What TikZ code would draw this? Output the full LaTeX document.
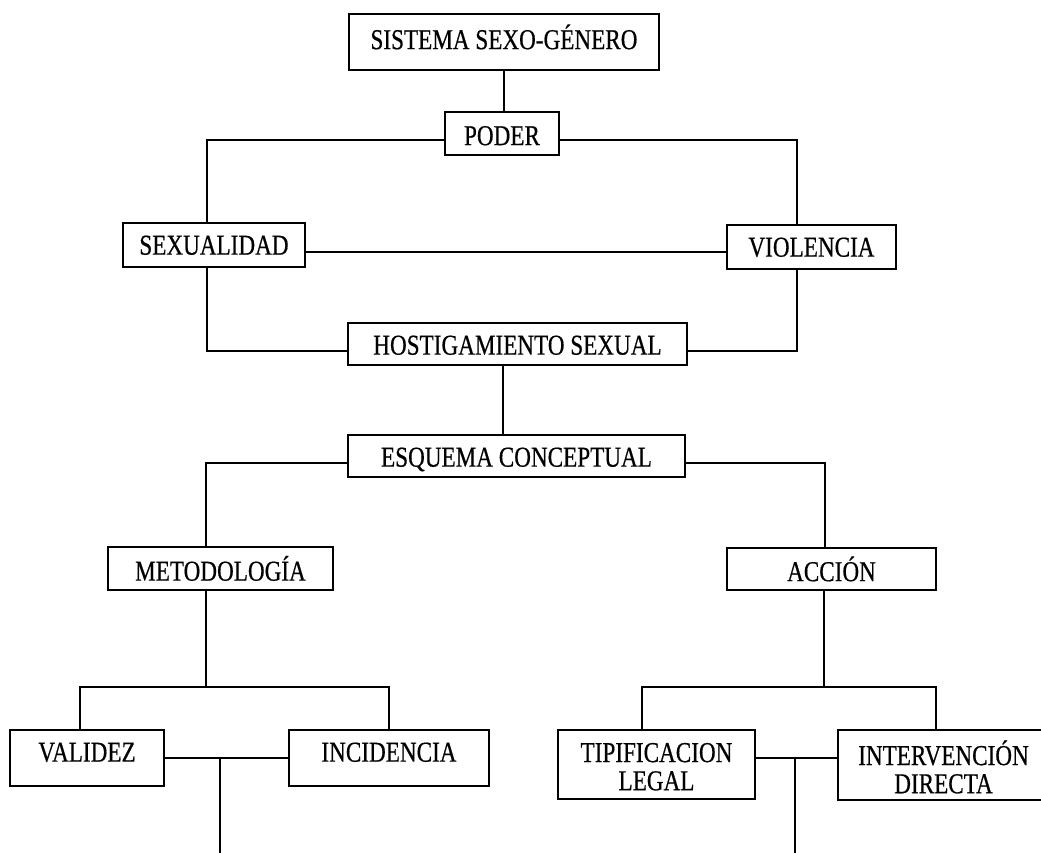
\documentclass[tikz,border=0pt]{standalone}
\usepackage{fontspec}
\setmainfont{Liberation Serif}
\newfontfamily\lblfont{Liberation Serif}[FakeBold=0.6]
% labels are set slightly tall and narrow, as in a condensed Times face;
% the optional argument moves the lettering up or down inside its box
\newcommand\lbl[2][-4pt]{\raisebox{#1}[\height][\depth]{%
  \scalebox{0.965}[1.2]{\begin{tabular}{@{}c@{}}#2\end{tabular}}}}
\begin{document}
\begin{tikzpicture}[x=1pt,y=-1pt,
  box/.style={draw, line width=2.3pt, inner sep=0pt, align=center,
    font=\lblfont\fontsize{24}{23.5}\selectfont},
  link/.style={line width=2.1pt}]
\useasboundingbox (0,0) rectangle (1041,853);
\clip (0,0) rectangle (1041,853);

% boxes
\node[box, minimum width=310pt, minimum height=56pt] (sis) at (504,42) {\lbl[1pt]{SISTEMA SEXO-GÉNERO}};
\node[box, minimum width=114pt, minimum height=43pt] (poder) at (502,133.5) {\lbl[-6pt]{PODER}};
\node[box, minimum width=182pt, minimum height=44pt] (sex) at (214,245) {\lbl{SEXUALIDAD}};
\node[box, minimum width=169pt, minimum height=44pt] (vio) at (811.5,247) {\lbl{VIOLENCIA}};
\node[box, minimum width=339pt, minimum height=42pt] (host) at (517.5,344) {\lbl[-5pt]{HOSTIGAMIENTO SEXUAL}};
\node[box, minimum width=337pt, minimum height=42pt] (esq) at (516.5,456) {\lbl[-5pt]{ESQUEMA CONCEPTUAL}};
\node[box, minimum width=225pt, minimum height=43pt] (met) at (220.5,568.5) {\lbl{METODOLOGÍA}};
\node[box, minimum width=209pt, minimum height=42pt] (acc) at (831.5,569) {\lbl{ACCIÓN}};
\node[box, minimum width=154pt, minimum height=56pt] (val) at (87,758) {\lbl[2pt]{VALIDEZ}};
\node[box, minimum width=200pt, minimum height=56pt] (inc) at (389,758) {\lbl[2pt]{INCIDENCIA}};
\node[box, minimum width=197pt, minimum height=69pt] (tip) at (656.5,764.5) {\lbl[-6pt]{TIPIFICACION\\LEGAL}};
\node[box, minimum width=211pt, minimum height=70pt] (int) at (943.5,765) {\lbl[-6pt]{INTERVENCIÓN\\DIRECTA}};

% junction points and open line ends
\coordinate (mj) at (206,687);
\coordinate (aj) at (824,687);
\coordinate (vj) at (220,758);
\coordinate (tj) at (795,758);
\coordinate (vend) at (220,853);
\coordinate (tend) at (795,853);

% connectors
\draw[link] (sis.south) -- (sis.south |- poder.north);
\draw[link] ([yshift=-6.5pt]poder.west) -| ([xshift=-7pt]sex.north);
\draw[link] ([yshift=-6.5pt]poder.east) -| ([xshift=-14.5pt]vio.north);
\draw[link] ([yshift=-7pt]sex.east) -- ([yshift=-5pt]vio.west);
\draw[link] ([xshift=-7pt]sex.south) |- ([yshift=-7pt]host.west);
\draw[link] ([xshift=-14.5pt]vio.south) |- ([yshift=-7pt]host.east);
\draw[link] ([xshift=-14.5pt]host.south) -- ([xshift=-14.5pt]host.south |- esq.north);
\draw[link] ([yshift=-7pt]esq.west) -| ([xshift=-14.5pt]met.north);
\draw[link] ([yshift=-7pt]esq.east) -| ([xshift=-6.5pt]acc.north);

\draw[link] ([xshift=-14.5pt]met.south) -- (mj);
\draw[link] ([xshift=-7pt]val.north) |- (mj) -| (inc.north);
\draw[link] (val.east) -- (inc.west);
\draw[link] (vj) -- (vend);

\draw[link] ([xshift=-7.5pt]acc.south) -- (aj);
\draw[link] ([xshift=-14.5pt]tip.north) |- (aj) -| ([xshift=-7.5pt]int.north);
\draw[link] ([yshift=6.5pt]tip.east) -- ([yshift=7pt]int.west);
\draw[link] (tj) -- (tend);
\end{tikzpicture}
\end{document}
